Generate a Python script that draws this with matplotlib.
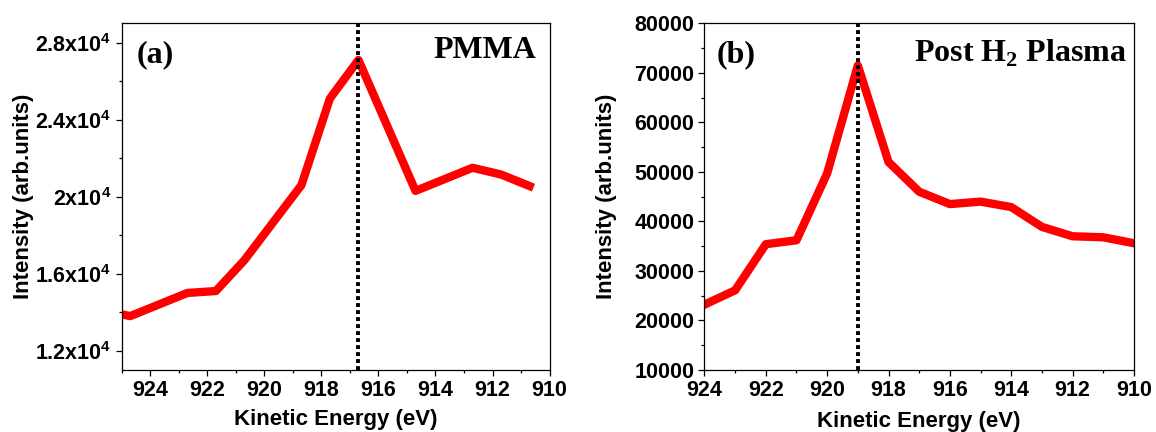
import numpy as np
import matplotlib
matplotlib.use("Agg")
import matplotlib.pyplot as plt
from matplotlib.ticker import MultipleLocator, FuncFormatter

# panel (a) - PMMA
energy_a = [925.7, 924.7, 923.7, 922.7, 921.7, 920.7, 919.7, 918.7,
            917.7, 916.7, 915.7, 914.7, 913.7, 912.7, 911.7, 910.7]
intensity_a = [14100, 13800, 14400, 15000, 15100, 16700, 18650, 20600,
               25100, 27100, 23700, 20300, 20900, 21500, 21150, 20550]
peak_a = 916.7

# panel (b) - post H2 plasma
energy_b = [924, 923, 922, 921, 920, 919, 918, 917, 916, 915, 914, 913, 912, 911, 910]
intensity_b = [23200, 26100, 35400, 36200, 49700, 71500, 52000, 46000,
               43500, 44000, 42900, 38900, 37000, 36800, 35600]
peak_b = 919.0

plt.rcParams['font.family'] = ['Liberation Sans', 'DejaVu Sans']
plt.rcParams['font.weight'] = 'bold'
plt.rcParams['mathtext.fontset'] = 'custom'
plt.rcParams['mathtext.rm'] = 'Liberation Sans:bold'
plt.rcParams['mathtext.bf'] = 'Liberation Sans:bold'
plt.rcParams['mathtext.sf'] = 'Liberation Serif:bold'
plt.rcParams['mathtext.default'] = 'rm'

fig = plt.figure(figsize=(11.56, 4.32), dpi=100)
ax1 = fig.add_axes([0.1053, 0.1435, 0.3701, 0.8025])
ax2 = fig.add_axes([0.6094, 0.1435, 0.3715, 0.8025])

red = '#ff0000'
tick_fs = 15.5
label_fs = 16


def style(ax, ymin, ymax, ymaj, ymin_step, xlim):
    ax.set_xlim(*xlim)
    ax.set_ylim(ymin, ymax)
    ax.xaxis.set_major_locator(MultipleLocator(2))
    ax.xaxis.set_minor_locator(MultipleLocator(1))
    ax.yaxis.set_major_locator(MultipleLocator(ymaj))
    ax.yaxis.set_minor_locator(MultipleLocator(ymin_step))
    ax.tick_params(which='major', direction='out', length=4.3, width=0.9,
                   labelsize=tick_fs, pad=3)
    ax.tick_params(which='minor', direction='out', length=2.2, width=0.9)
    for s in ax.spines.values():
        s.set_linewidth(0.9)
    ax.set_xlabel('Kinetic Energy (eV)', fontsize=label_fs, fontweight='bold')
    ax.set_ylabel('Intensity (arb.units)', fontsize=label_fs, fontweight='bold')
    ax.xaxis.label.set_va('top')


# (a)
ax1.plot(energy_a, intensity_a, color=red, lw=6, solid_joinstyle='round')
ax1.axvline(peak_a, color='black', lw=2.8, linestyle=(0, (1.0, 0.8)))
style(ax1, 11000, 29000, 4000, 2000, (925, 910))
ax1.yaxis.set_major_formatter(FuncFormatter(lambda v, p: f"{v / 1e4:g}x10$^{{4}}$"))
ax1.text(0.035, 0.889, '(a)', transform=ax1.transAxes, fontsize=23,
         family='Liberation Serif', fontweight='bold', ha='left', va='baseline')
ax1.text(0.968, 0.899, 'PMMA', transform=ax1.transAxes, fontsize=23,
         family='Liberation Serif', fontweight='bold', ha='right', va='baseline')
ax1.yaxis.set_label_coords(-0.205, 0.5)
ax1.xaxis.set_label_coords(0.5, -0.1125)

# (b)
ax2.plot(energy_b, intensity_b, color=red, lw=6, solid_joinstyle='round')
ax2.axvline(peak_b, color='black', lw=2.8, linestyle=(0, (1.0, 0.8)))
style(ax2, 10000, 80000, 10000, 5000, (924, 910))
ax2.yaxis.set_major_formatter(FuncFormatter(lambda v, p: f"{v:.0f}"))
ax2.text(0.028, 0.889, '(b)', transform=ax2.transAxes, fontsize=23,
         family='Liberation Serif', fontweight='bold', ha='left', va='baseline')
ax2.text(0.983, 0.889, r'Post H$_{\mathsf{2}}$ Plasma', transform=ax2.transAxes,
         fontsize=23, family='Liberation Serif', fontweight='bold',
         ha='right', va='baseline')
ax2.yaxis.set_label_coords(-0.203, 0.5)
ax2.xaxis.set_label_coords(0.5, -0.118)

fig.savefig('out.png', dpi=100)
